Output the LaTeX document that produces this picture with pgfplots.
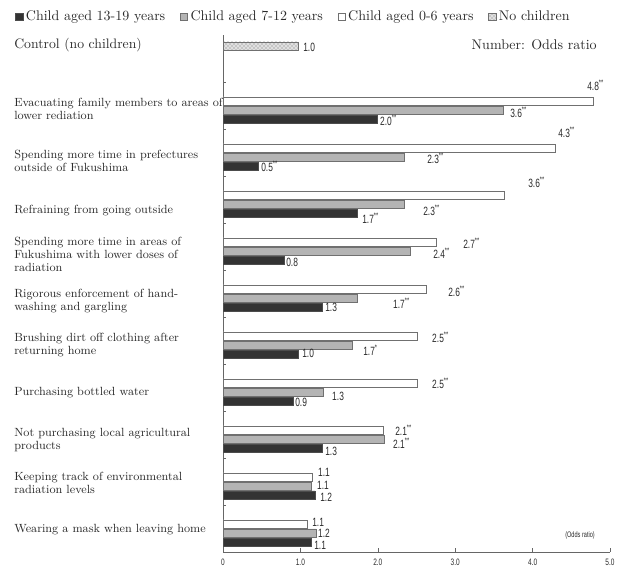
\documentclass[border=0pt]{standalone}
\usepackage{fontspec}
\setsansfont{Liberation Sans}
\usepackage{graphicx}
\usepackage{pgfplots}
\pgfplotsset{compat=1.18}
\usetikzlibrary{patterns}

\definecolor{bardark}{HTML}{333333}
\definecolor{bargray}{HTML}{B4B4B4}
\definecolor{edge}{HTML}{707070}
\definecolor{txt}{HTML}{2A2A2A}

\newcommand\dstar{\textsuperscript{**}}
\newcommand\sstar{\textsuperscript{*}}
\newcommand\cond[1]{\scalebox{0.7}[1]{#1}}

\begin{document}
\begin{tikzpicture}
\path[use as bounding box] (0,0) rectangle (468pt,424.5pt);
\begin{axis}[
  at={(167.25pt,10.5pt)}, anchor=south west,
  scale only axis, width=290.25pt, height=387.75pt,
  xmin=0, xmax=5, ymin=-0.5, ymax=10.5,
  clip=false,
  axis x line=bottom, axis y line=left,
  axis line style={-, draw=black!60, line width=0.6pt},
  tick align=inside,
  major tick length=3pt, minor tick length=2.5pt,
  xtick={0,1,2,3,4,5},
  xticklabels={\cond{0},\cond{1.0},\cond{2.0},\cond{3.0},\cond{4.0},\cond{5.0}},
  xticklabel style={font=\sffamily\fontsize{7}{8}\selectfont, text=txt, yshift=-2pt},
  x tick style={draw=black!60},
  ytick={-0.032,0.979,1.883,2.883,3.904,4.830,5.840,6.755,7.819,8.926,10.287},
  yticklabels={
    {Wearing a mask when leaving home},
    {Keeping track of environmental\\radiation levels},
    {Not purchasing local agricultural\\products},
    {Purchasing bottled water},
    {Brushing dirt off clothing after\\returning home},
    {Rigorous enforcement of hand-\\washing and gargling},
    {Spending more time in areas of\\Fukushima with lower doses of\\radiation},
    {Refraining from going outside},
    {Spending more time in prefectures\\outside of Fukushima},
    {Evacuating family members to areas of\\lower rediation},
    {\fontsize{10.3}{12}\selectfont Control (no children)}},
  yticklabel style={font=\fontsize{8.9}{9.8}\selectfont, align=left, anchor=west,
    inner sep=0pt, xshift=-156.75pt, text=txt},
  major y tick style={draw=none},
  minor ytick={0.5,1.5,...,9.5},
  minor y tick style={draw=black!60},
  legend columns=4,
  legend style={at={(-0.5375,1.052)}, anchor=north west, draw=none, fill=none,
    inner sep=0pt, font=\fontsize{10.5}{12}\selectfont, text=txt,
    /tikz/every even column/.append style={column sep=9pt}},
  legend image code/.code={\draw[#1, line width=0.4pt] (0pt,-2.8pt) rectangle (5.6pt,2.8pt);},
]
\addplot[xbar, bar width=6pt, bar shift=-10.125pt, fill=bardark, draw=black!70]
  coordinates {(1.99,9) (0.45,8) (1.73,7) (0.79,6) (1.28,5) (0.97,4) (0.91,3) (1.28,2) (1.19,1) (1.14,0)};
\addlegendentry{Child aged 13-19 years}
\addplot[xbar, bar width=6pt, bar shift=-3.375pt, fill=bargray, draw=edge]
  coordinates {(3.62,9) (2.34,8) (2.34,7) (2.42,6) (1.74,5) (1.67,4) (1.29,3) (2.08,2) (1.14,1) (1.20,0)};
\addlegendentry{Child aged 7-12 years}
\addplot[xbar, bar width=6pt, bar shift=3.375pt, fill=white, draw=edge]
  coordinates {(4.79,9) (4.29,8) (3.64,7) (2.76,6) (2.62,5) (2.51,4) (2.51,3) (2.07,2) (1.15,1) (1.09,0)};
\addlegendentry{Child aged 0-6 years}
\addplot[xbar, bar width=6pt, bar shift=9.4pt, fill=black!12, draw=edge,
  postaction={pattern=crosshatch dots, pattern color=black!55}]
  coordinates {(0.97,10)};
\addlegendentry{No children}
% value labels
\addplot[forget plot, only marks, mark=none, draw=none,
  point meta=explicit symbolic,
  nodes near coords={\cond{\pgfplotspointmeta}},
  every node near coord/.append style={anchor=west, inner sep=0pt,
    font=\sffamily\fontsize{9}{10}\selectfont, text=txt}]
  coordinates {
  (1.034,10.245) [1.0]
  (4.703,9.436) [4.8\dstar]
  (3.708,8.862) [3.6\dstar]
  (2.028,8.691) [2.0\dstar]
  (4.328,8.436) [4.3\dstar]
  (2.636,7.883) [2.3\dstar]
  (0.491,7.713) [0.5\dstar]
  (3.941,7.372) [3.6\dstar]
  (2.584,6.777) [2.3\dstar]
  (1.796,6.606) [1.7\dstar]
  (3.101,6.074) [2.7\dstar]
  (2.713,5.862) [2.4\dstar]
  (0.814,5.670) [0.8]
  (2.907,5.053) [2.6\dstar]
  (2.196,4.798) [1.7\dstar]
  (1.318,4.713) [1.3]
  (2.700,4.074) [2.5\dstar]
  (1.809,3.798) [1.7\sstar]
  (1.021,3.734) [1.0]
  (2.700,3.096) [2.5\dstar]
  (1.408,2.819) [1.3]
  (0.930,2.691) [0.9]
  (2.222,2.096) [2.1\dstar]
  (2.196,1.819) [2.1\dstar]
  (1.318,1.649) [1.3]
  (1.227,1.200) [1.1]
  (1.214,0.915) [1.1]
  (1.253,0.655) [1.2]
  (1.150,0.130) [1.1]
  (1.227,-0.110) [1.2]
  (1.176,-0.350) [1.1]
  };
\end{axis}
\node[anchor=east, inner sep=0pt, text=txt, font=\fontsize{10.5}{12}\selectfont]
  at (447.75pt,390.75pt) {Number: Odds ratio};
\node[anchor=west, inner sep=0pt, text=txt, font=\sffamily\fontsize{6}{7}\selectfont]
  at (423.75pt,23.25pt) {\cond{(Odds ratio)}};
\end{tikzpicture}
\end{document}
